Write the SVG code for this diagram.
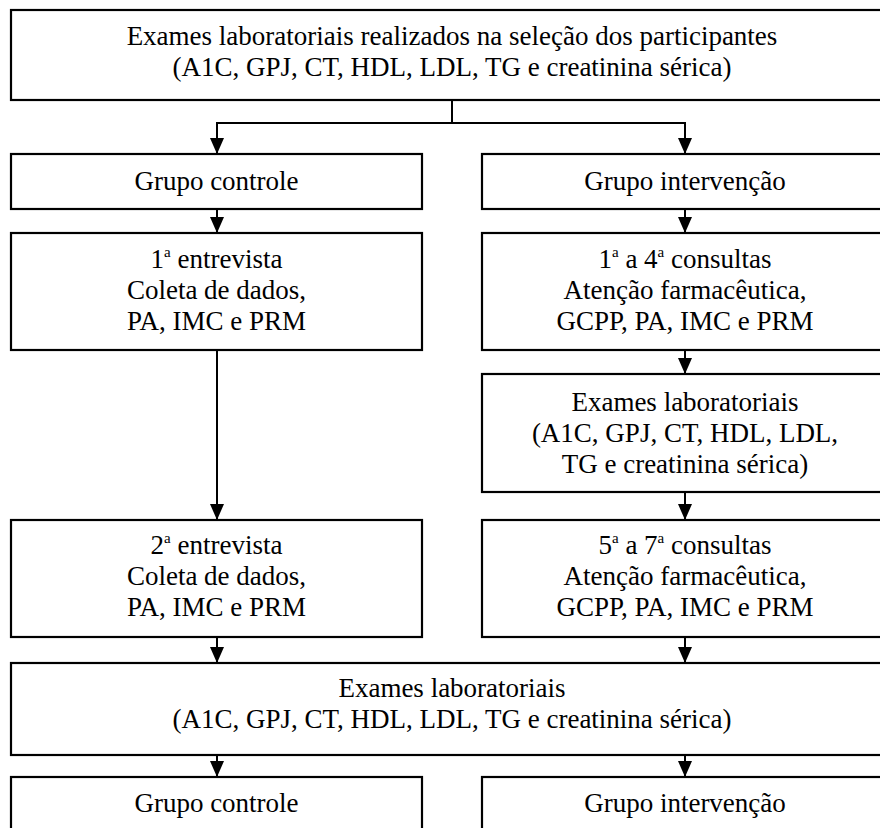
<svg xmlns="http://www.w3.org/2000/svg" width="880" height="828" viewBox="0 0 880 828">
<defs>
<marker id="arr" markerUnits="userSpaceOnUse" markerWidth="16" markerHeight="14" refX="16" refY="7" orient="auto" viewBox="0 0 16 14">
<path d="M0,0 L16,7 L0,14 Z" fill="#000"/>
</marker>
<style>
.box{fill:#fff;stroke:#000;stroke-width:2.2}
.t{font-family:"Liberation Serif","Times New Roman",serif;font-size:27px;fill:#000;text-anchor:middle}
.sup{font-size:15px}
.c{stroke:#000;stroke-width:2;fill:none}
.a{stroke:#000;stroke-width:2;fill:none;marker-end:url(#arr)}
</style>
</defs>
<rect width="880" height="828" fill="#fff"/>
<g id="connectors">
<line class="c" x1="452" y1="100" x2="452" y2="123"/>
<line class="c" x1="216" y1="123" x2="686" y2="123"/>
<line class="a" x1="217" y1="123" x2="217" y2="154"/>
<line class="a" x1="685" y1="123" x2="685" y2="154"/>
<line class="a" x1="217" y1="209" x2="217" y2="233"/>
<line class="a" x1="685" y1="209" x2="685" y2="233"/>
<line class="a" x1="685" y1="350" x2="685" y2="374"/>
<line class="a" x1="685" y1="492" x2="685" y2="520"/>
<line class="a" x1="217" y1="350" x2="217" y2="520"/>
<line class="a" x1="217" y1="637" x2="217" y2="663"/>
<line class="a" x1="685" y1="637" x2="685" y2="663"/>
<line class="a" x1="217" y1="755" x2="217" y2="777"/>
<line class="a" x1="685" y1="755" x2="685" y2="777"/>
</g>
<g id="n-top">
<rect class="box" x="11" y="10" width="882" height="90"/>
<text class="t" x="452" y="45">Exames laboratoriais realizados na seleção dos participantes</text>
<text class="t" x="452" y="76">(A1C, GPJ, CT, HDL, LDL, TG e creatinina sérica)</text>
</g>
<g id="n-grupo-controle">
<rect class="box" x="11" y="154" width="411" height="55"/>
<text class="t" x="216.5" y="189.5">Grupo controle</text>
</g>
<g id="n-grupo-intervencao">
<rect class="box" x="482" y="154" width="410" height="55"/>
<text class="t" x="685" y="189.5">Grupo intervenção</text>
</g>
<g id="n-entrevista1">
<rect class="box" x="11" y="233" width="411" height="117"/>
<text class="t" x="216.5" y="268">1<tspan class="sup" dy="-11">a</tspan><tspan dy="11"> entrevista</tspan></text>
<text class="t" x="216.5" y="299">Coleta de dados,</text>
<text class="t" x="216.5" y="330">PA, IMC e PRM</text>
</g>
<g id="n-consultas1">
<rect class="box" x="482" y="233" width="410" height="117"/>
<text class="t" x="685" y="268">1<tspan class="sup" dy="-11">a</tspan><tspan dy="11"> a 4</tspan><tspan class="sup" dy="-11">a</tspan><tspan dy="11"> consultas</tspan></text>
<text class="t" x="685" y="299">Atenção farmacêutica,</text>
<text class="t" x="685" y="330">GCPP, PA, IMC e PRM</text>
</g>
<g id="n-exames-meio">
<rect class="box" x="482" y="374" width="410" height="118"/>
<text class="t" x="685" y="411">Exames laboratoriais</text>
<text class="t" x="685" y="442">(A1C, GPJ, CT, HDL, LDL,</text>
<text class="t" x="685" y="473">TG e creatinina sérica)</text>
</g>
<g id="n-entrevista2">
<rect class="box" x="11" y="520" width="411" height="117"/>
<text class="t" x="216.5" y="554">2<tspan class="sup" dy="-11">a</tspan><tspan dy="11"> entrevista</tspan></text>
<text class="t" x="216.5" y="585">Coleta de dados,</text>
<text class="t" x="216.5" y="616">PA, IMC e PRM</text>
</g>
<g id="n-consultas2">
<rect class="box" x="482" y="520" width="410" height="117"/>
<text class="t" x="685" y="554">5<tspan class="sup" dy="-11">a</tspan><tspan dy="11"> a 7</tspan><tspan class="sup" dy="-11">a</tspan><tspan dy="11"> consultas</tspan></text>
<text class="t" x="685" y="585">Atenção farmacêutica,</text>
<text class="t" x="685" y="616">GCPP, PA, IMC e PRM</text>
</g>
<g id="n-exames-final">
<rect class="box" x="11" y="663" width="882" height="92"/>
<text class="t" x="452" y="697">Exames laboratoriais</text>
<text class="t" x="452" y="728">(A1C, GPJ, CT, HDL, LDL, TG e creatinina sérica)</text>
</g>
<g id="n-grupo-controle-final">
<rect class="box" x="11" y="777" width="411" height="70"/>
<text class="t" x="216.5" y="812">Grupo controle</text>
</g>
<g id="n-grupo-intervencao-final">
<rect class="box" x="482" y="777" width="410" height="70"/>
<text class="t" x="685" y="812">Grupo intervenção</text>
</g>
</svg>
